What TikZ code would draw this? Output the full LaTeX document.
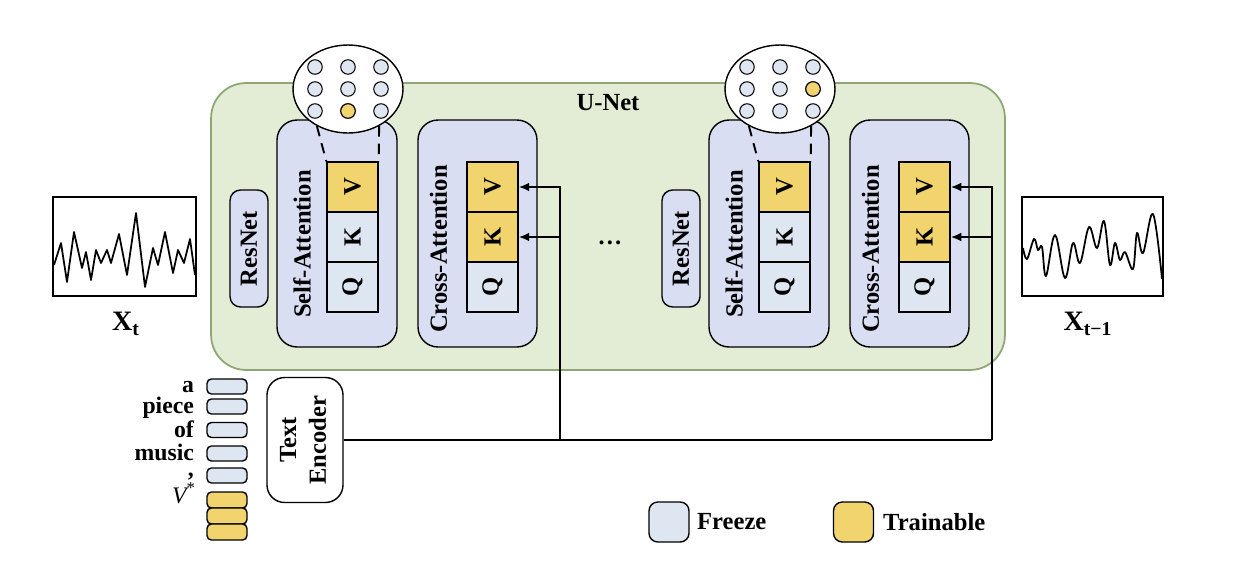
\documentclass[tikz,border=0pt]{standalone}
\usepackage{fontspec}
\setmainfont{Liberation Serif}
\usepackage{graphicx}
\usetikzlibrary{arrows.meta,shapes.geometric}

\definecolor{unetfill}{HTML}{E3EDD6}
\definecolor{unetline}{HTML}{8DA673}
\definecolor{lav}{HTML}{D9DEF2}
\definecolor{freeze}{HTML}{DEE6F2}
\definecolor{train}{HTML}{F2D46E}

\begin{document}
\begin{tikzpicture}[x=0.02cm, y=-0.02cm, >={Latex[length=6pt,width=5pt]},
    font=\bfseries\fontsize{14}{17}\selectfont,
    box/.style={draw, line width=0.8pt, inner sep=0pt},
    block/.style={box, fill=lav},
    cell/.style={box, fill=freeze, minimum width=1.02cm, minimum height=1cm},
    token/.style={box, rounded corners=2.5pt, minimum width=0.8cm},
    word/.style={anchor=base east, inner sep=1pt, font=\bfseries\fontsize{13.5}{15}\selectfont},
    dot/.style={circle, draw, line width=0.6pt, fill=freeze, minimum size=0.29cm, inner sep=0pt},
    wire/.style={line width=1.1pt},
    wave/.style={line width=1pt, line join=round}]

    \useasboundingbox (0,0) rectangle (1237,572);

    % U-Net
    \node[box, line width=1pt, draw=unetline, fill=unetfill, rounded corners=0.7cm,
        minimum width=15.88cm, minimum height=5.74cm] (unet) at (608,226.5) {};
    \node (unetlab) at (608,103) {U-Net};

    % Two stages of the U-Net
    \foreach \o/\i/\dx/\dy in {0/a/0/22, 432/b/33/0} {
        \node[block, rounded corners=6pt, minimum width=0.76cm, minimum height=2.34cm]
            (res\i) at ({249+\o},248.5) {\rotatebox{90}{ResNet}};

        % Self-attention
        \node[block, rounded corners=0.4cm, minimum width=2.4cm, minimum height=4.54cm]
            (sa\i) at ({337+\o},233.5) {};
        \node[rotate=90] (salab\i) at ({302+\o},244) {Self-Attention};
        \node[cell, fill=train] (sav\i) at ({352.5+\o},187) {\rotatebox{90}{V}};
        \node[cell] (sak\i) at ({352.5+\o},237) {\rotatebox{90}{K}};
        \node[cell] (saq\i) at ({352.5+\o},287) {\rotatebox{90}{Q}};

        % Cross-attention
        \node[block, rounded corners=0.4cm, minimum width=2.38cm, minimum height=4.54cm]
            (ca\i) at ({477.5+\o},233.5) {};
        \node[rotate=90] (calab\i) at ({438.5+\o},249) {Cross-Attention};
        \node[cell, fill=train] (cav\i) at ({492.5+\o},187) {\rotatebox{90}{V}};
        \node[cell, fill=train] (cak\i) at ({492.5+\o},237) {\rotatebox{90}{K}};
        \node[cell] (caq\i) at ({492.5+\o},287) {\rotatebox{90}{Q}};

        % Zoom on V
        \node[ellipse, box, fill=white, minimum width=2.2cm, minimum height=1.76cm]
            (zoom\i) at ({348+\o},89) {};
        \foreach \u in {-33,0,33}
            \foreach \v in {-22,0,22}
                \node[dot] (d\i\u\v) at ({348+\o+\u},{89+\v}) {};
        \node[dot, fill=train] (hot\i) at ({348+\o+\dx},{89+\dy}) {};
        \draw[wire, dash pattern=on 6pt off 4pt] (zoom\i.230) -- (sav\i.north west);
        \draw[wire, dash pattern=on 6pt off 4pt] (zoom\i.310) -- (sav\i.north east);

        % Text features into K and V
        \coordinate (j\i) at ({560+\o},440);
        \draw[wire, ->] (j\i) |- (cav\i.east);
        \draw[wire, ->] (j\i) |- (cak\i.east);
    }

    \node (gap) at (610,243) {\dots};

    % Prompt tokens
    \foreach \y [count=\k] in {386.5,406.5,430,453.5,475.5}
        \node[token, fill=freeze, minimum height=0.3cm] (tok\k) at (227,\y) {};
    \foreach \y [count=\k from 6] in {500,516,532}
        \node[token, fill=train, minimum height=0.32cm] (tok\k) at (227,\y) {};

    \node[word] (w1) at (196,392) {a};
    \node[word] (w2) at (196,413) {piece};
    \node[word] (w3) at (196,437) {of};
    \node[word] (w4) at (196,460) {music};
    \node[word] (w5) at (196,476) {,};
    \node[word] (w6) at (198,503) {{\normalfont\itshape V}\textsuperscript{\normalfont *}};

    % Text encoder
    \node[box, fill=white, rounded corners=0.35cm, minimum width=1.52cm, minimum height=2.5cm]
        (enc) at (305,440) {\rotatebox{90}{\begin{tabular}{@{}c@{}}Text\\Encoder\end{tabular}}};
    \draw[wire] (enc.east) -- (jb);

    % Noisy input and output
    \node[box, line width=1pt, minimum width=2.86cm, minimum height=1.98cm] (xt) at (124.5,246.5) {};
    \draw[wave] plot coordinates {(54,265) (61,243) (67,282) (74,232) (82,268) (86,252) (91,280)
        (96,250) (101,263) (107,250) (111,263) (119,234) (127,275) (136,213) (145,287) (153,248)
        (158,265) (165,232) (173,273) (178,250) (184,263) (190,239) (195,275)};
    \node (xtlab) at (126,324) {\fontsize{16}{18}\selectfont X\textsubscript{t}};

    \node[box, line width=1pt, minimum width=2.82cm, minimum height=1.98cm] (xs) at (1092.5,246.5) {};
    \draw[wave] plot[smooth, tension=0.6] coordinates {(1023,248) (1027,259) (1034,239) (1038,250)
        (1042,247) (1046,276) (1055,235) (1065,278) (1073,243) (1080,263) (1089,227) (1097,248)
        (1104,221) (1110,265) (1115,243) (1120,260) (1125,252) (1133,269) (1137,233) (1143,253)
        (1153,214) (1162,279)};
    \node (xslab) at (1088,324) {\fontsize{16}{18}\selectfont X\textsubscript{t−1}};

    % Legend
    \node[box, fill=freeze, rounded corners=5pt, minimum size=0.8cm] (lf) at (669,522) {};
    \node[anchor=west] (lftext) at (691,522) {Freeze};
    \node[box, fill=train, rounded corners=5pt, minimum size=0.8cm] (lt) at (853.5,522) {};
    \node[anchor=west] (lttext) at (877,522) {Trainable};

\end{tikzpicture}
\end{document}
